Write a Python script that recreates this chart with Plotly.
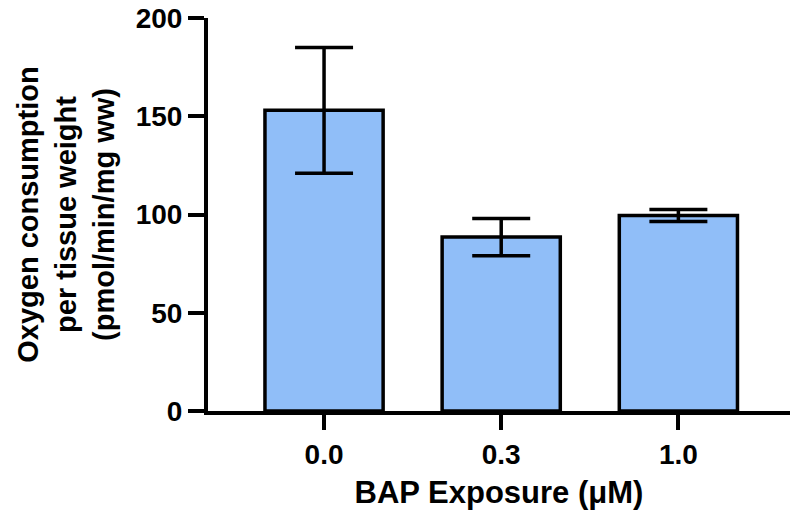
import plotly.graph_objects as go

categories = ["0.0", "0.3", "1.0"]
means = [153, 88.5, 99.5]
errors = [32, 9.5, 3]
y_ticks = [0, 50, 100, 150, 200]

FONT = "Liberation Sans, Arial, sans-serif"

fig = go.Figure()
fig.add_trace(go.Bar(
    x=categories,
    y=means,
    width=0.667,
    marker=dict(color="#90BEF8", line=dict(color="black", width=3.5)),
    error_y=dict(type="data", array=errors, visible=True, color="black",
                 thickness=3.5, width=29),
))

fig.update_layout(
    width=790, height=518,
    margin=dict(l=208, r=0, t=18, b=107),
    plot_bgcolor="white", paper_bgcolor="white",
    showlegend=False,
    font=dict(family=FONT, color="black"),
)
fig.update_xaxes(
    range=[-0.655, 2.63],
    showline=True, linecolor="black", linewidth=4,
    ticks="outside", ticklen=15, tickwidth=4, tickcolor="black",
    tickfont=dict(family=FONT, size=28, color="black", weight="bold"),
    showgrid=False, zeroline=False,
    title=dict(text="<b>BAP Exposure (μM)</b>", font=dict(family=FONT, size=31, color="black"), standoff=14),
)
fig.update_yaxes(
    range=[0, 200],
    tickvals=y_ticks,
    showline=True, linecolor="black", linewidth=4,
    ticks="outside", ticklen=16, tickwidth=4, tickcolor="black",
    tickfont=dict(family=FONT, size=28, color="black", weight="bold"),
    showgrid=False, zeroline=False,
    title=dict(text="<b>Oxygen consumption<br>per tissue weight<br>(pmol/min/mg ww)</b>",
               font=dict(family=FONT, size=29, color="black"), standoff=14),
)

fig.write_html("out.html", config={"displayModeBar": False},
               post_script="document.body.style.margin='0';")
